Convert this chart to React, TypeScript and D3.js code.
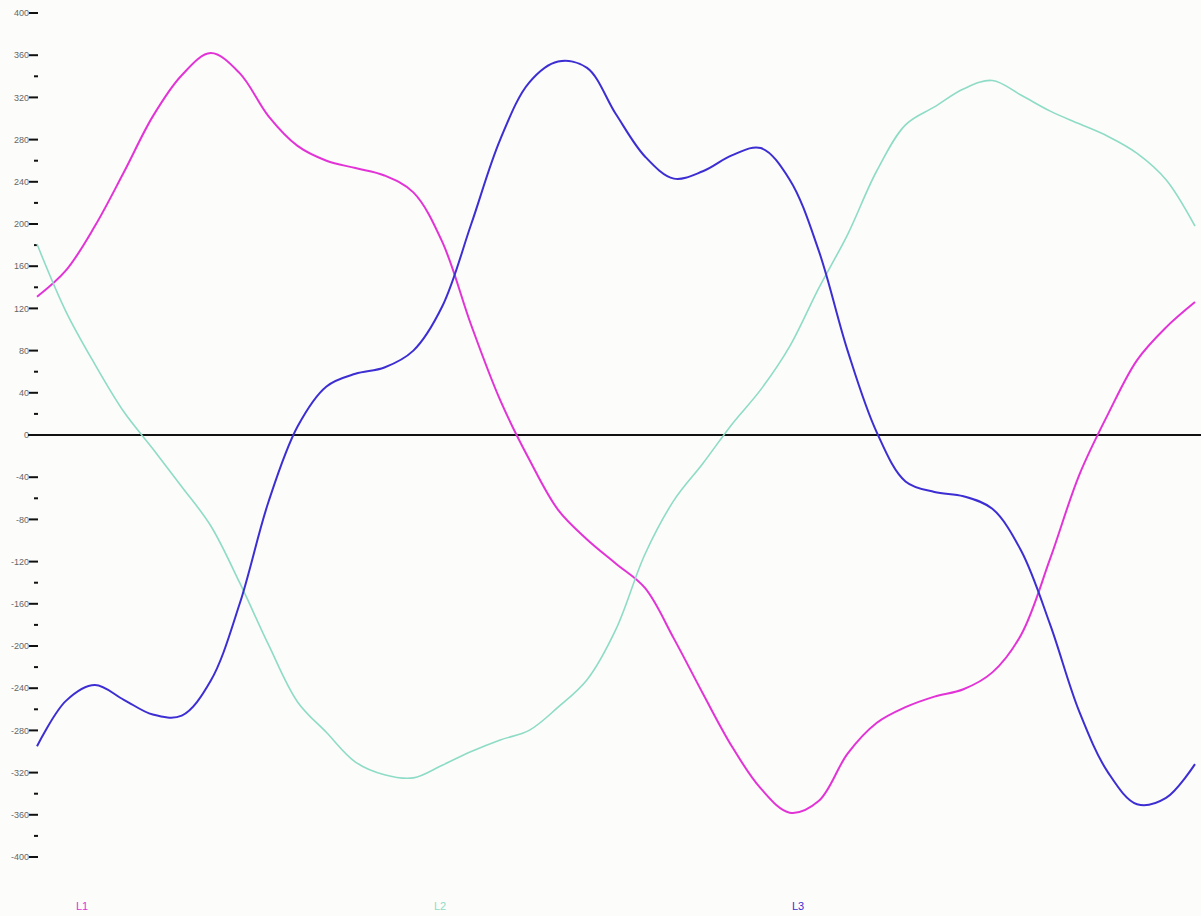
import React, { useEffect, useRef } from 'react'
import * as d3 from 'd3'

// one period, time in ms, sampled every 0.5 ms
const times = d3.range(0, 20.001, 0.5)

const l1 = [
  131, 156, 198, 249, 302, 341, 362, 343, 302, 274, 260, 253, 246, 230, 183, 104, 33, -23, -71, -99, -122,
  -145, -193, -245, -295, -335, -358, -347, -302, -273, -258, -248, -241, -225, -189, -117, -38, 20, 71, 102, 126,
]
const l2 = [
  181, 117, 67, 22, -13, -49, -86, -140, -199, -253, -282, -310, -322, -325, -313, -300, -289, -280, -258, -232, -184,
  -113, -62, -27, 10, 43, 84, 139, 190, 250, 294, 311, 328, 336, 322, 307, 295, 283, 267, 242, 198,
]
const l3 = [
  -295, -252, -237, -251, -265, -266, -233, -160, -63, 8, 46, 58, 64, 80, 122, 200, 280, 334, 354, 348, 304,
  264, 243, 250, 265, 272, 242, 175, 80, 3, -44, -54, -58, -70, -110, -180, -262, -320, -350, -344, -312,
]

const seriesNames = ['L1', 'L2', 'L3']
const seriesColors = ['#e234d6', '#8edcc6', '#3c2ed2']

const majorTicks = d3.range(-400, 401, 40)
const minorTicks = [340, 260, 220, 180, 140, 60, 20, -60, -140, -180, -220, -260, -340, -380]

const WIDTH = 1201
const HEIGHT = 916

const App = () => {
  const ref = useRef<SVGSVGElement>(null)

  useEffect(() => {
    const svg = d3.select(ref.current)
    svg.selectAll('*').remove()

    const x = d3.scaleLinear().domain([0, 20]).range([37, 1195])
    const y = d3.scaleLinear().domain([-400, 400]).range([857, 13])

    svg.append('rect').attr('width', WIDTH).attr('height', HEIGHT).attr('fill', '#fcfcfa')

    const axis = svg.append('g')

    axis
      .selectAll('line.major')
      .data(majorTicks)
      .enter()
      .append('line')
      .attr('x1', 29)
      .attr('x2', 38)
      .attr('y1', (d) => y(d))
      .attr('y2', (d) => y(d))
      .attr('stroke', '#111')
      .attr('stroke-width', 2)

    axis
      .selectAll('line.minor')
      .data(minorTicks)
      .enter()
      .append('line')
      .attr('x1', 34)
      .attr('x2', 38)
      .attr('y1', (d) => y(d))
      .attr('y2', (d) => y(d))
      .attr('stroke', '#111')
      .attr('stroke-width', 2)

    axis
      .selectAll('text')
      .data(majorTicks)
      .enter()
      .append('text')
      .attr('x', 29)
      .attr('y', (d) => y(d))
      .attr('dy', '0.35em')
      .attr('text-anchor', 'end')
      .style('font-family', 'Liberation Sans, Arial, sans-serif')
      .style('font-size', '9px')
      .style('fill', '#666')
      .text((d) => String(d))

    // zero line
    svg
      .append('line')
      .attr('x1', 28)
      .attr('x2', WIDTH)
      .attr('y1', y(0))
      .attr('y2', y(0))
      .attr('stroke', '#111')
      .attr('stroke-width', 2)

    const line = d3
      .line<number>()
      .x((_, i) => x(times[i]))
      .y((d) => y(d))
      .curve(d3.curveCatmullRom.alpha(0.5))

    const allSeries = [l1, l2, l3]
    svg
      .selectAll('path.wave')
      .data(allSeries)
      .enter()
      .append('path')
      .attr('d', (d) => line(d))
      .attr('fill', 'none')
      .attr('stroke', (_, i) => seriesColors[i])
      .attr('stroke-width', (_, i) => (i === 1 ? 1.6 : 2))

    svg
      .selectAll('text.legend')
      .data(seriesNames)
      .enter()
      .append('text')
      .attr('x', (_, i) => 76 + i * 358)
      .attr('y', 910)
      .style('font-family', 'Liberation Sans, Arial, sans-serif')
      .style('font-size', '11px')
      .style('fill', (_, i) => seriesColors[i])
      .text((d) => d)
  }, [])

  return (
    <svg
      ref={ref}
      width={WIDTH}
      height={HEIGHT}
      style={{ position: 'absolute', left: 0, top: 0, display: 'block' }}
    />
  )
}

export default App
